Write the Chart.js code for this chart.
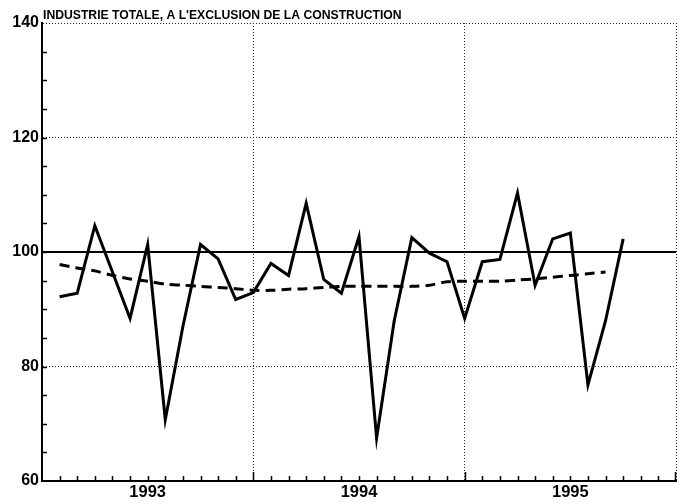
<!DOCTYPE html>
<html>
<head>
<meta charset="utf-8">
<script src="https://cdn.jsdelivr.net/npm/chart.js@4.4.1/dist/chart.umd.min.js"></script>
<style>
  html, body { margin: 0; padding: 0; background: #fff; }
</style>
</head>
<body>
<canvas id="chart" width="687" height="504"></canvas>
<script>
// Monthly index, Jan 1993 .. Sep 1995 (month 1 = Jan 1993)
const chartTitle = "INDUSTRIE TOTALE, A L'EXCLUSION DE LA CONSTRUCTION";
const months = [1, 2, 3, 4, 5, 6, 7, 8, 9, 10, 11, 12,
                13, 14, 15, 16, 17, 18, 19, 20, 21, 22, 23, 24,
                25, 26, 27, 28, 29, 30, 31, 32, 33];
const industry = [92.2, 92.8, 104.6, 96.5, 88.4, 101.3, 70.7, 87.0, 101.3, 98.8, 91.7, 92.9,
                  98.0, 95.9, 108.5, 95.2, 92.8, 102.7, 67.5, 88.0, 102.5, 99.8, 98.3, 88.4,
                  98.3, 98.7, 110.3, 94.2, 102.3, 103.3, 76.8, 88.0, 102.3];
const trend = [97.8, 97.2, 96.7, 95.9, 95.3, 94.9, 94.4, 94.2, 94.0, 93.8, 93.6, 93.3,
               93.3, 93.5, 93.6, 93.8, 94.0, 94.0, 94.0, 94.0, 94.0, 94.2, 94.8, 94.9,
               94.9, 94.9, 95.1, 95.3, 95.6, 95.9, 96.2, 96.5];
const yearLabels = ['1993', '1994', '1995'];
const yearCentres = [6, 18, 30];
const yearBounds = [12, 24, 36];
const refLevel = 100;

const font = "'Liberation Sans', Arial, sans-serif";

// minor ticks, 100 reference line and the title
const decorations = {
    id: 'decorations',
    beforeDatasetsDraw(chart) {
        const {ctx, chartArea: a, scales: {x, y}} = chart;
        ctx.save();
        ctx.strokeStyle = '#000';
        ctx.lineWidth = 2;
        const y100 = y.getPixelForValue(refLevel);
        ctx.beginPath();
        ctx.moveTo(a.left, y100);
        ctx.lineTo(a.right, y100);
        ctx.stroke();

        ctx.lineWidth = 1.5;
        ctx.beginPath();
        for (let m = x.min + 1; m < x.max; m++) {
            const px = Math.round(x.getPixelForValue(m)) + 0.5;
            const len = yearBounds.includes(m) ? 9 : 5;
            ctx.moveTo(px, a.bottom);
            ctx.lineTo(px, a.bottom - len);
        }
        const px = x.getPixelForValue(x.max) - 0.5;
        ctx.moveTo(px, a.bottom);
        ctx.lineTo(px, a.bottom - 9);
        for (let v = y.min + 5; v < y.max; v += 5) {
            const py = Math.round(y.getPixelForValue(v)) + 0.5;
            ctx.moveTo(a.left, py);
            ctx.lineTo(a.left + 5, py);
        }
        ctx.stroke();
        ctx.restore();
    },
    afterDraw(chart) {
        const {ctx, chartArea: a} = chart;
        ctx.save();
        ctx.fillStyle = '#000';
        ctx.font = 'bold 12.2px ' + font;
        ctx.textBaseline = 'alphabetic';
        ctx.fillText(chartTitle, a.left + 1, 19);
        ctx.restore();
    }
};

new Chart(document.getElementById('chart'), {
    type: 'line',
    data: {
        datasets: [
            {
                label: 'Industrie',
                data: months.map((m, i) => ({x: m, y: industry[i]})),
                borderColor: '#000',
                borderWidth: 3,
                pointRadius: 0,
                tension: 0,
                borderJoinStyle: 'miter'
            },
            {
                label: 'Tendance',
                data: trend.map((v, i) => ({x: months[i], y: v})),
                borderColor: '#000',
                borderWidth: 3,
                borderDash: [10, 6],
                pointRadius: 0,
                tension: 0.3
            }
        ]
    },
    options: {
        responsive: false,
        animation: false,
        devicePixelRatio: 1,
        layout: { padding: { top: 23, right: 11, left: 0, bottom: 0 } },
        plugins: {
            legend: { display: false },
            tooltip: { enabled: false }
        },
        scales: {
            x: {
                type: 'linear',
                min: 0,
                max: 36,
                afterBuildTicks: s => {
                    s.ticks = [6, 12, 18, 24, 30, 36].map(v => ({value: v}));
                },
                afterFit: s => { s.height = 23; },
                ticks: {
                    autoSkip: false,
                    maxRotation: 0,
                    padding: 2,
                    color: '#000',
                    font: { family: font, size: 16.5, weight: 'bold' },
                    callback: v => {
                        const i = yearCentres.indexOf(v);
                        return i >= 0 ? yearLabels[i] : '';
                    }
                },
                grid: {
                    drawTicks: false,
                    lineWidth: 1,
                    color: c => yearBounds.includes(c.tick && c.tick.value) ? '#222' : 'rgba(0,0,0,0)'
                },
                border: { display: true, color: '#000', width: 2, dash: [1, 2] }
            },
            y: {
                min: 60,
                max: 140,
                afterFit: s => { s.width = 42; },
                ticks: {
                    stepSize: 20,
                    padding: 3,
                    color: '#000',
                    font: { family: font, size: 16, weight: 'bold' }
                },
                grid: {
                    drawTicks: false,
                    lineWidth: 1,
                    color: c => {
                        const v = c.tick && c.tick.value;
                        return (v === 60 || v === refLevel) ? 'rgba(0,0,0,0)' : '#222';
                    }
                },
                border: { display: true, color: '#000', width: 2, dash: [1, 2] }
            }
        }
    },
    plugins: [decorations]
});
</script>
</body>
</html>
